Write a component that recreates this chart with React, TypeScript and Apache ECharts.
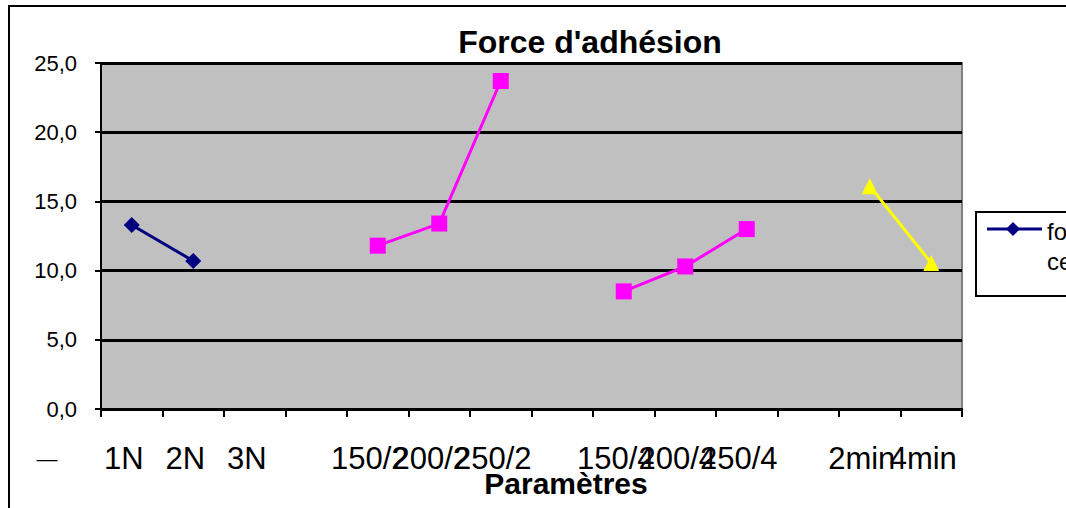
import React, { useEffect, useRef } from "react";
import * as echarts from "echarts";

const categories = ["1N", "2N", "3N", "", "150/2", "200/2", "250/2", "", "150/4", "200/4", "250/4", "", "2min", "4min"];
const forceNormale = [13.3, 10.7, null, null, null, null, null, null, null, null, null, null, null, null];
const forceTemperature = [null, null, null, null, 11.8, 13.4, 23.7, null, 8.5, 10.3, 13.0, null, null, null];
const forceTemps = [null, null, null, null, null, null, null, null, null, null, null, null, 16.1, 10.55];
const yTicks = { min: 0, max: 25, interval: 5 };

const FONT = "'Liberation Sans', Arial, Helvetica, sans-serif";

export default function App() {
  const ref = useRef<HTMLDivElement>(null);
  useEffect(() => {
    const chart = echarts.init(ref.current!, null, { renderer: "svg" });
    chart.setOption({
      animation: false,
      backgroundColor: "#ffffff",
      grid: {
        left: 101,
        right: 104,
        top: 63,
        bottom: 99,
        show: true,
        backgroundColor: "#C0C0C0",
        borderColor: "#808080",
        borderWidth: 2,
      },
      xAxis: {
        type: "category",
        data: categories,
        boundaryGap: true,
        axisLine: { show: true, lineStyle: { color: "#000", width: 2 } },
        axisTick: { show: true, interval: 0, length: 8, lineStyle: { color: "#000", width: 2 } },
        axisLabel: {
          interval: 0,
          fontSize: 31,
          fontFamily: FONT,
          color: "#000",
          margin: 34,
          padding: [0, 16, 0, 0],
        },
        splitLine: { show: false },
      },
      yAxis: {
        type: "value",
        min: yTicks.min,
        max: yTicks.max,
        interval: yTicks.interval,
        axisLine: { show: true, lineStyle: { color: "#000", width: 2 } },
        axisTick: { show: true, length: 6, lineStyle: { color: "#000", width: 2 } },
        axisLabel: {
          fontSize: 22,
          fontFamily: FONT,
          color: "#000",
          margin: 24,
          formatter: (v: number) => v.toFixed(1).replace(".", ","),
        },
        splitLine: { show: true, lineStyle: { color: "#000", width: 3 } },
      },
      series: [
        {
          name: "force",
          type: "line",
          data: forceNormale,
          symbol: "diamond",
          symbolSize: 16,
          connectNulls: false,
          lineStyle: { color: "#000080", width: 3 },
          itemStyle: { color: "#000080" },
        },
        {
          name: "temperature",
          type: "line",
          data: forceTemperature,
          symbol: "rect",
          symbolSize: 16,
          connectNulls: false,
          lineStyle: { color: "#FF00FF", width: 3 },
          itemStyle: { color: "#FF00FF" },
        },
        {
          name: "temps",
          type: "line",
          data: forceTemps,
          symbol: "triangle",
          symbolSize: 16,
          connectNulls: false,
          lineStyle: { color: "#FFFF00", width: 3 },
          itemStyle: { color: "#FFFF00" },
        },
      ],
      graphic: [
        {
          type: "rect",
          shape: { x: 9, y: 6, width: 1200, height: 700 },
          style: { fill: "none", stroke: "#000", lineWidth: 2 },
          silent: true,
        },
        {
          type: "text",
          x: 590,
          y: 42,
          style: {
            text: "Force d'adhésion",
            font: `bold 32px ${FONT}`,
            fill: "#000",
            align: "center",
            verticalAlign: "middle",
          },
        },
        {
          type: "text",
          x: 566,
          y: 483,
          style: {
            text: "Paramètres",
            font: `bold 30px ${FONT}`,
            fill: "#000",
            align: "center",
            verticalAlign: "middle",
          },
        },
        {
          type: "text",
          x: 47,
          y: 458,
          style: {
            text: "—",
            font: `21px ${FONT}`,
            fill: "#000",
            align: "center",
            verticalAlign: "middle",
          },
        },
        {
          type: "group",
          children: [
            {
              type: "rect",
              shape: { x: 976, y: 212, width: 140, height: 84 },
              style: { fill: "#fff", stroke: "#000", lineWidth: 2 },
            },
            {
              type: "line",
              shape: { x1: 987, y1: 229, x2: 1042, y2: 229 },
              style: { stroke: "#000080", lineWidth: 3 },
            },
            {
              type: "polygon",
              shape: { points: [[1013, 222], [1020, 229], [1013, 236], [1006, 229]] },
              style: { fill: "#000080" },
            },
            {
              type: "text",
              x: 1047,
              y: 231,
              style: { text: "force", font: `24px ${FONT}`, fill: "#000", verticalAlign: "middle" },
            },
            {
              type: "text",
              x: 1047,
              y: 261,
              style: { text: "ce", font: `24px ${FONT}`, fill: "#000", verticalAlign: "middle" },
            },
          ],
        },
      ],
    });
    return () => chart.dispose();
  }, []);
  return (
    <div
      ref={ref}
      style={{ position: "absolute", left: 0, top: 0, width: 1066, height: 508 }}
    />
  );
}
